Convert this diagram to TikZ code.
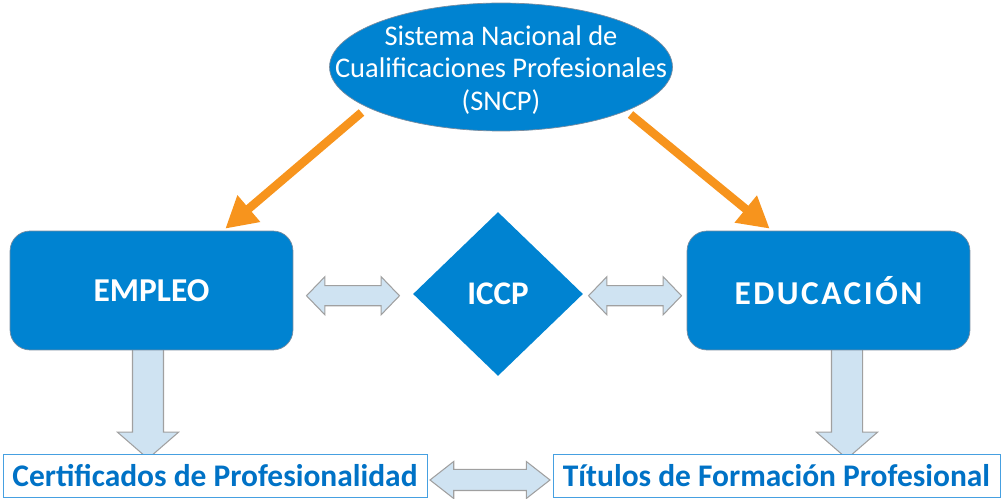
\documentclass[tikz,border=0pt]{standalone}
\usepackage{fontspec}
\setmainfont{Carlito}
\usepackage{tikz}
\usetikzlibrary{
  shapes.geometric,
  shapes.arrows,
  arrows.meta,
  positioning,
  calc
}
\definecolor{nodecolor}{RGB}{0, 131, 209}
\definecolor{bordercolor}{RGB}{120, 140, 160}
\definecolor{linkcolor}{RGB}{247, 148, 29}
\definecolor{blockfill}{RGB}{207, 227, 242}
\definecolor{blockline}{RGB}{160, 160, 160}
\definecolor{labelcolor}{RGB}{0, 114, 198}
\definecolor{boxline}{RGB}{70, 160, 225}
\tikzset{
systemnode/.style={
  ellipse,
  draw=bordercolor,
  fill=nodecolor,
  inner sep=0pt,
  minimum width=6.86cm,
  minimum height=2.56cm
},
systemtext/.style={
  align=center,
  text=white,
  font=\fontsize{16.2}{18.6}\selectfont
},
areablock/.style={
  draw=bordercolor,
  fill=nodecolor,
  rounded corners=0.4cm,
  minimum width=5.66cm,
  minimum height=2.38cm,
  text=white,
  font=\fontsize{19}{22}\selectfont\bfseries
},
centerblock/.style={
  diamond,
  fill=nodecolor,
  inner sep=0pt,
  minimum width=3.4cm,
  minimum height=3.28cm,
  text=white,
  font=\fontsize{18.8}{22}\selectfont\bfseries
},
resultbox/.style={
  draw=boxline,
  fill=white,
  minimum height=0.86cm,
  inner sep=0pt,
  text=labelcolor,
  font=\fontsize{17.9}{21}\selectfont\bfseries
},
linkarrow/.style={
  -{Triangle[length=0.62cm,width=0.66cm]},
  line width=0.17cm,
  draw=linkcolor
},
sidearrow/.style={
  double arrow,
  draw=blockline,
  fill=blockfill,
  inner xsep=0pt,
  line width=0.6pt
},
downarrow/.style={
  single arrow,
  draw=blockline,
  fill=blockfill,
  inner xsep=0pt,
  inner ysep=0.3cm,
  line width=0.6pt,
  minimum height=2.2cm,
  single arrow head extend=0.3cm,
  single arrow tip angle=98,
  rotate=-90
}
}

\begin{document}
\begin{tikzpicture}[x=0.02cm, y=-0.02cm]
  \useasboundingbox (0,0) rectangle (1002,499);

  \node[systemnode, label={[systemtext, yshift=-0.06cm]center:Sistema Nacional de\\Cualificaciones Profesionales\\(SNCP)}]
    (sncp) at (501,67) {};

  % block arrows down to the results
  \node[downarrow] (empleodown) at (148,397) {};
  \node[downarrow] (educaciondown) at (847,397) {};

  \node[areablock] (empleo) at (151.5,290.5) {EMPLEO};
  \node[areablock] (educacion) at (828.5,290.5) {\addfontfeature{LetterSpace=7.5}EDUCACIÓN};
  \node[centerblock] (iccp) at (498,294) {ICCP};

  \node[resultbox, minimum width=8.48cm] (certificados) at (215,475.5)
    {Certificados de Profesionalidad};
  \node[resultbox, minimum width=8.94cm] (titulos) at (776.5,475.5)
    {Títulos de Formación Profesional};

  % orange links from the SNCP
  \draw[linkarrow] ($(sncp.south west)+(-18,0)$) -- ($(empleo.north east)+(-68,-2)$);
  \draw[linkarrow] ($(sncp.south east)+(8,2)$) -- ($(educacion.north west)+(83,-2)$);

  % block arrows in both directions
  \node[sidearrow, minimum height=1.86cm, inner ysep=0.19cm,
    double arrow head extend=0.18cm, double arrow tip angle=92]
    (empleoiccp) at ($(empleo.east)!0.5!(iccp.west)+(0,3.5)$) {};
  \node[sidearrow, minimum height=1.86cm, inner ysep=0.19cm,
    double arrow head extend=0.18cm, double arrow tip angle=92]
    (iccpeducacion) at ($(iccp.east)!0.5!(educacion.west)+(0,3.5)$) {};
  \node[sidearrow, minimum height=2.4cm, inner ysep=0.2cm,
    double arrow head extend=0.16cm, double arrow tip angle=76]
    (resultlink) at ($(certificados.east)!0.5!(titulos.west)+(0,4.5)$) {};
\end{tikzpicture}
\end{document}
